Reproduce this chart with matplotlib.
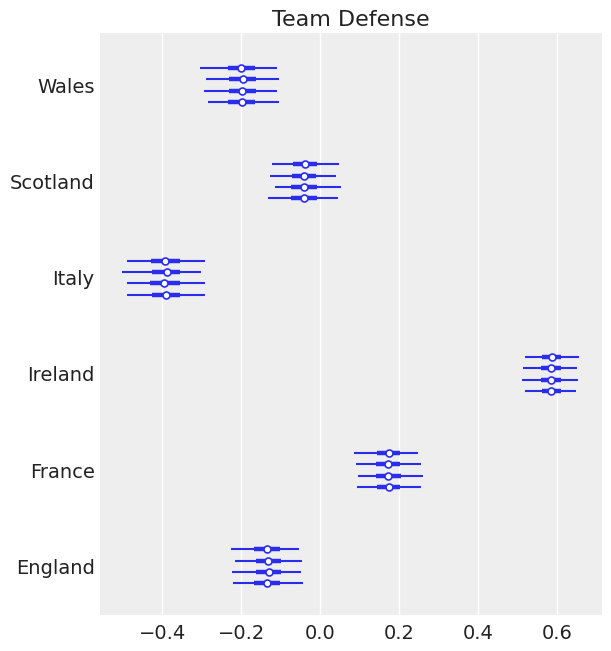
import numpy as np
import matplotlib.pyplot as plt

# teams from bottom to top, 4 chains each (chain 0 drawn on top)
teams = ['England', 'France', 'Ireland', 'Italy', 'Scotland', 'Wales']

hdi_low = [[-0.225, -0.215, -0.223, -0.220],
           [0.086, 0.091, 0.096, 0.094],
           [0.519, 0.514, 0.511, 0.519],
           [-0.489, -0.501, -0.489, -0.489],
           [-0.122, -0.127, -0.114, -0.132],
           [-0.304, -0.289, -0.294, -0.284]]
hdi_high = [[-0.053, -0.046, -0.048, -0.043],
            [0.248, 0.256, 0.261, 0.256],
            [0.656, 0.651, 0.653, 0.648],
            [-0.291, -0.301, -0.291, -0.291],
            [0.048, 0.041, 0.053, 0.046],
            [-0.109, -0.104, -0.109, -0.104]]
q_low = [[-0.167, -0.162, -0.162, -0.167],
         [0.144, 0.142, 0.142, 0.144],
         [0.562, 0.559, 0.559, 0.562],
         [-0.428, -0.425, -0.430, -0.425],
         [-0.068, -0.071, -0.073, -0.073],
         [-0.233, -0.230, -0.230, -0.233]]
q_high = [[-0.101, -0.099, -0.099, -0.101],
          [0.203, 0.203, 0.205, 0.203],
          [0.610, 0.610, 0.610, 0.610],
          [-0.354, -0.354, -0.354, -0.354],
          [-0.008, -0.010, -0.008, -0.008],
          [-0.165, -0.162, -0.162, -0.165]]
median = [[-0.134, -0.132, -0.129, -0.134],
          [0.175, 0.172, 0.172, 0.175],
          [0.587, 0.585, 0.585, 0.585],
          [-0.392, -0.387, -0.395, -0.390],
          [-0.038, -0.041, -0.041, -0.041],
          [-0.200, -0.195, -0.197, -0.197]]

color = '#2a2eec'
offsets = np.array([0.177, 0.059, -0.059, -0.177])

fig = plt.figure(figsize=(6.11, 6.51), dpi=100)
ax = fig.add_axes([0.164, 0.055, 0.821, 0.894])
ax.set_facecolor('#eeeeee')
for s in ax.spines.values():
    s.set_visible(False)

for i in range(len(teams)):
    for j in range(4):
        y = i + offsets[j]
        ax.plot([hdi_low[i][j], hdi_high[i][j]], [y, y], color=color, lw=1.5, solid_capstyle='butt', zorder=2)
        ax.plot([q_low[i][j], q_high[i][j]], [y, y], color=color, lw=3.2, solid_capstyle='butt', zorder=3)
        ax.plot(median[i][j], y, 'o', color=color, mfc='white', mec=color, ms=5, mew=1.2, zorder=4)

ax.set_xlim(-0.557, 0.714)
ax.set_ylim(-0.508, 5.54)
ax.set_xticks([-0.4, -0.2, 0.0, 0.2, 0.4, 0.6])
ax.set_xticklabels(['\u22120.4', '\u22120.2', '0.0', '0.2', '0.4', '0.6'])
ax.set_yticks(range(len(teams)))
ax.set_yticklabels(teams)
ax.tick_params(axis='both', length=0, labelsize=14, colors='#222222')
ax.tick_params(axis='x', pad=6)
ax.tick_params(axis='y', pad=4)
ax.grid(axis='x', color='white', lw=1, zorder=0)
ax.set_axisbelow(True)
ax.set_title('Team Defense', fontsize=16, color='#222222', pad=5)

plt.savefig('out.png')
